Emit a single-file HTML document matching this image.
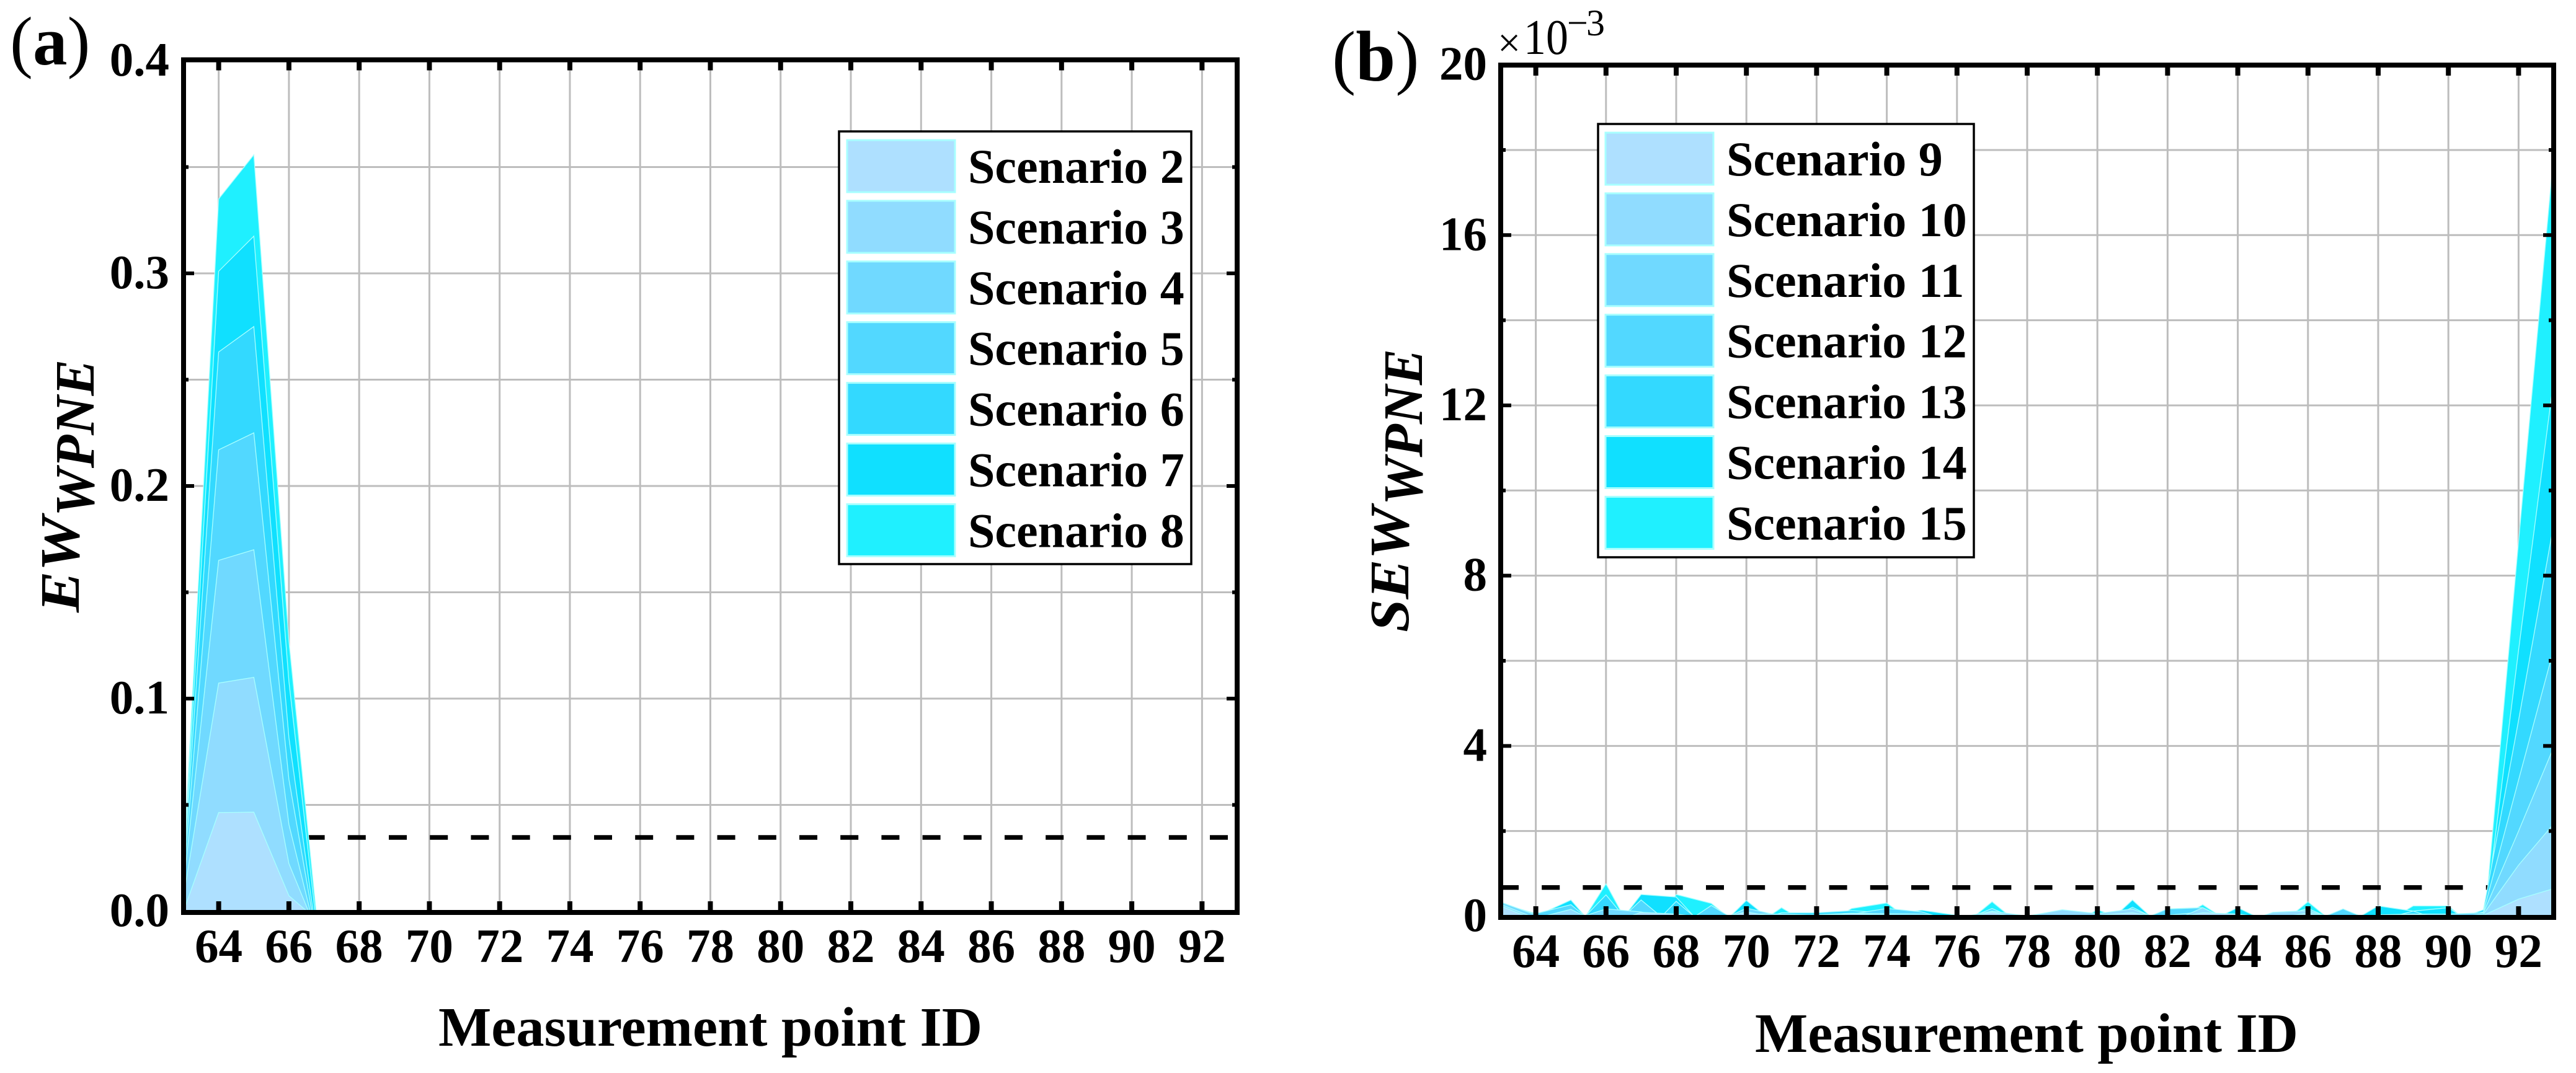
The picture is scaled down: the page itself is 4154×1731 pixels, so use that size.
<!DOCTYPE html>
<html lang="en">
<head>
<meta charset="utf-8">
<title>EW and SEW WPNE by measurement point</title>
<style>
html,body{margin:0;padding:0;background:#fff;}
svg{display:block;}
text{font-family:"Liberation Serif",serif;fill:#000;}
</style>
</head>
<body>
<svg id="figure" xmlns="http://www.w3.org/2000/svg" width="4154" height="1731" viewBox="0 0 4154 1731"></svg>
<script>
const measurementPoints = [63,64,65,66,67,68,69,70,71,72,73,74,75,76,77,78,79,80,81,82,83,84,85,86,87,88,89,90,91,92,93];
const xTickValues = [64,66,68,70,72,74,76,78,80,82,84,86,88,90,92];
const xTickLabels = ["64","66","68","70","72","74","76","78","80","82","84","86","88","90","92"];

const yMajorA = [0,0.1,0.2,0.3,0.4];
const yMinorA = [0.05,0.15,0.25,0.35];
const yLabelsA = ["0.0","0.1","0.2","0.3","0.4"];
const yMajorB = [0,4,8,12,16,20];
const yMinorB = [2,6,10,14,18];
const yLabelsB = ["0","4","8","12","16","20"];

const thresholdA = 0.0347;
const thresholdB = 0.674;

const namesA = ["Scenario 2","Scenario 3","Scenario 4","Scenario 5","Scenario 6","Scenario 7","Scenario 8"];
const namesB = ["Scenario 9","Scenario 10","Scenario 11","Scenario 12","Scenario 13","Scenario 14","Scenario 15"];
const scenarioColors = ["#aee0ff","#90dcff","#70d9ff","#52d8ff","#33d9ff","#10e0ff","#1ff0ff"];

const scenario2 = [0,0.0464,0.0466,0.0073,-0.0069,0,0,0,0,0,0,0,0,0,0,0,0,0,0,0,0,0,0,0,0,0,0,0,0,0,0];
const scenario3 = [0.007,0.1073,0.11,0.0224,-0.0178,0,0,0,0,0,0,0,0,0,0,0,0,0,0,0,0,0,0,0,0,0,0,0,0,0,0];
const scenario4 = [0.012,0.165,0.17,0.0408,-0.0266,0,0,0,0,0,0,0,0,0,0,0,0,0,0,0,0,0,0,0,0,0,0,0,0,0,0];
const scenario5 = [0.015,0.217,0.225,0.062,-0.0327,0,0,0,0,0,0,0,0,0,0,0,0,0,0,0,0,0,0,0,0,0,0,0,0,0,0];
const scenario6 = [0.018,0.263,0.275,0.0816,-0.0368,0,0,0,0,0,0,0,0,0,0,0,0,0,0,0,0,0,0,0,0,0,0,0,0,0,0];
const scenario7 = [0.02,0.301,0.3175,0.108,-0.0377,0,0,0,0,0,0,0,0,0,0,0,0,0,0,0,0,0,0,0,0,0,0,0,0,0,0];
const scenario8 = [0.022,0.335,0.3557,0.127,-0.037,0,0,0,0,0,0,0,0,0,0,0,0,0,0,0,0,0,0,0,0,0,0,0,0,0,0];

const scenario9  = [0.24,-0.1,-0.05,-0.2,0.09,0.05,-0.1,0.1,-0.05,-0.02,0.06,0.02,-0.02,-0.1,0.1,-0.1,0.02,0.02,0.08,-0.08,0.08,0.05,-0.05,0.07,-0.07,0,0.05,-0.02,0.02,0.4,0.65];
const scenario10 = [0.28,-0.05,0.16,-0.25,-0.1,0.05,-0.05,0.05,0.05,0.02,0.04,0.03,0.02,-0.05,0.12,0,0.15,0.06,0.17,-0.17,0.2,-0.2,0.09,0.13,-0.13,0.01,0.03,-0.05,0.05,1.2,2.17];
const scenario11 = [0.33,0.03,-0.1,0.17,0.1,-0.1,-0.2,0.19,0,0.03,0.07,0.06,0.05,-0.05,0.1,-0.05,-0.02,0.05,-0.05,0.02,0.1,0,-0.05,0.18,-0.18,0.03,0.05,0.05,0.08,2.0,3.97];
const scenario12 = [0.3,0.06,0.27,-0.4,0.38,-0.3,0.25,-0.25,-0.1,-0.05,0.05,0.18,0.1,-0.15,0.18,-0.18,-0.1,-0.1,-0.17,0.17,0.2,-0.2,-0.1,-0.17,0.17,-0.17,-0.1,-0.1,0.1,3.2,6.27];
const scenario13 = [0.3,0.03,-0.35,0.5,-0.5,0.35,-0.35,-0.2,0.08,0.08,0.13,0.08,-0.1,-0.1,-0.1,-0.1,-0.1,-0.2,0.21,-0.2,-0.1,-0.1,-0.1,-0.1,-0.1,-0.1,0.12,-0.15,0.15,4.6,9.2];
const scenario14 = [0.3,0,0.38,-0.57,0.51,0.45,-0.45,0.37,-0.3,-0.2,0.05,0.03,0.14,0.02,-0.2,-0.2,-0.2,-0.38,0.38,-0.38,-0.2,0.2,-0.2,-0.2,-0.24,0.24,0.12,0.2,-0.35,6.25,12.6];
const scenario15 = [0.3,-0.1,-0.55,0.76,-0.76,0.51,0.30,-0.37,0.2,-0.3,0.18,0.31,-0.3,-0.34,0.34,-0.34,-0.3,0.15,-0.15,-0.2,0.27,-0.27,-0.34,0.34,-0.34,-0.24,0.24,0.24,-0.44,8.8,17.9];

const seriesA = [scenario2,scenario3,scenario4,scenario5,scenario6,scenario7,scenario8];
const seriesB = [scenario9,scenario10,scenario11,scenario12,scenario13,scenario14,scenario15];

const NS = "http://www.w3.org/2000/svg";
const root = document.getElementById("figure");

function make(parent, tag, attrs, content) {
  const node = document.createElementNS(NS, tag);
  for (const k in attrs) node.setAttribute(k, attrs[k]);
  if (content !== undefined) node.textContent = content;
  parent.appendChild(node);
  return node;
}

function drawPanel(id, layout, majors, minors, yLabels, threshold, series, names) {
  const g = make(root, "g", {});
  
  

  const xScale = v => layout.x0 + (v - 63) * (layout.x1 - layout.x0) / 30;
  const yScale = v => layout.yZero - (v - layout.yMin) * (layout.yZero - layout.yTop) / (layout.yMax - layout.yMin);

  // grid
  const grid = make(g, "g", {stroke:"#bdbdbd","stroke-width":3,fill:"none"});
  
  
  xTickValues.forEach(v => {
    const line = make(grid, "line", {x1:xScale(v),x2:xScale(v),y1:layout.boxTop,y2:layout.boxBottom});
    
    
  });
  majors.concat(minors).forEach(v => {
    const line = make(grid, "line", {x1:layout.x0,x2:layout.x1,y1:yScale(v),y2:yScale(v)});
    
    
  });

  // threshold
  const thr = make(g, "line", {x1:layout.x0,x2:layout.x1,y1:yScale(threshold),y2:yScale(threshold),stroke:"#000","stroke-width":7.5,"stroke-dasharray":"29 37.2"});
  
  

  // clip + areas
  const defs = make(g, "defs", {});
  const clip = make(defs, "clipPath", {id:"clip-" + id});
  make(clip, "rect", {x:layout.x0,y:layout.boxTop,width:layout.x1 - layout.x0,height:layout.yZero - layout.boxTop});
  const areas = make(g, "g", {"clip-path":"url(#clip-" + id + ")"});
  
  
  for (let s = series.length - 1; s >= 0; s--) {
    const pts = series[s].map((v, i) => xScale(measurementPoints[i]).toFixed(1) + "," + yScale(v).toFixed(1));
    const base = yScale(0).toFixed(1);
    const d = xScale(measurementPoints[0]).toFixed(1) + "," + base + " " + pts.join(" ") + " " + xScale(measurementPoints[measurementPoints.length - 1]).toFixed(1) + "," + base;
    const poly = make(areas, "polygon", {points:d,fill:scenarioColors[s],stroke:"#a8ffff","stroke-width":1.3,"stroke-linejoin":"miter"});
    
    
  }

  // legend
  const lg = make(g, "g", {});
  
  
  make(lg, "rect", {x:layout.legendX,y:layout.legendY,width:layout.legendW,height:layout.legendH,fill:"#fff",stroke:"#000","stroke-width":3.5});
  names.forEach((name, i) => {
    const entry = make(lg, "g", {});
    
    
    make(entry, "rect", {x:layout.swatchX,y:layout.swatchY + i * 97.9,width:layout.swatchW,height:84,fill:scenarioColors[i],stroke:"#a8ffff","stroke-width":3});
    make(entry, "text", {x:layout.legendTextX,y:layout.legendTextY + i * 97.9,"font-size":78,"font-weight":"bold"}, name);
  });

  // frame
  const frame = make(g, "rect", {x:layout.x0,y:layout.boxTop,width:layout.x1 - layout.x0,height:layout.boxBottom - layout.boxTop,fill:"none",stroke:"#000","stroke-width":8});
  
  

  // x ticks and labels
  const xAxis = make(g, "g", {});
  
  
  xTickValues.forEach((v, i) => {
    make(xAxis, "line", {x1:xScale(v),x2:xScale(v),y1:layout.boxTop,y2:layout.boxTop + 17,stroke:"#000","stroke-width":8});
    make(xAxis, "line", {x1:xScale(v),x2:xScale(v),y1:layout.boxBottom,y2:layout.boxBottom - 18,stroke:"#000","stroke-width":8});
    const label = make(xAxis, "text", {x:xScale(v),y:layout.xLabelY,"font-size":77,"font-weight":"bold","text-anchor":"middle"}, xTickLabels[i]);
    
    
  });

  // y ticks and labels
  const yAxis = make(g, "g", {});
  
  
  majors.forEach((v, i) => {
    if (i > 0 && i < majors.length - 1) {
      make(yAxis, "line", {x1:layout.x0,x2:layout.x0 + 17,y1:yScale(v),y2:yScale(v),stroke:"#000","stroke-width":6});
      make(yAxis, "line", {x1:layout.x1,x2:layout.x1 - 17,y1:yScale(v),y2:yScale(v),stroke:"#000","stroke-width":6});
    }
    const label = make(yAxis, "text", {x:layout.yLabelX,y:yScale(v) + 24,"font-size":77,"font-weight":"bold","text-anchor":"end"}, yLabels[i]);
    
    
  });
  minors.forEach(v => {
    make(yAxis, "line", {x1:layout.x0,x2:layout.x0 + 8,y1:yScale(v),y2:yScale(v),stroke:"#000","stroke-width":6});
    make(yAxis, "line", {x1:layout.x1,x2:layout.x1 - 8,y1:yScale(v),y2:yScale(v),stroke:"#000","stroke-width":6});
  });

  // x title
  const xt = make(g, "text", {x:layout.xTitleX,y:layout.xTitleY,"font-size":90,"font-weight":"bold",textLength:layout.xTitleW,lengthAdjust:"spacingAndGlyphs"}, "Measurement point ID");
  
  
}

drawPanel("a", {
  x0:296, x1:1995, boxTop:96.5, boxBottom:1472, yZero:1470, yTop:98, yMin:0, yMax:0.4,
  legendX:1353, legendY:212, legendW:568, legendH:698,
  swatchX:1366, swatchY:226, swatchW:174, legendTextX:1561, legendTextY:295,
  xLabelY:1552, yLabelX:273, xTitleX:707, xTitleY:1687, xTitleW:877
}, yMajorA, yMinorA, yLabelsA, thresholdA, seriesA, namesA);

drawPanel("b", {
  x0:2420, x1:4118, boxTop:105, boxBottom:1480, yZero:1478, yTop:104.6, yMin:0, yMax:20,
  legendX:2577, legendY:200, legendW:606, legendH:699,
  swatchX:2589, swatchY:214, swatchW:174, legendTextX:2784, legendTextY:283,
  xLabelY:1560, yLabelX:2398, xTitleX:2830, xTitleY:1697, xTitleW:876
}, yMajorB, yMinorB, yLabelsB, thresholdB, seriesB, namesB);

function panelTag(name, x, y, size, letter) {
  const t = make(root, "text", {x:x,y:y,"font-size":size});
  
  
  make(t, "tspan", {}, "(");
  make(t, "tspan", {"font-weight":"bold"}, letter);
  make(t, "tspan", {}, ")");
}
panelTag("panel-label-a", 16, 104, 111, "a");
panelTag("panel-label-b", 2148, 130, 115, "b");

const multiplier = make(root, "g", {});


make(multiplier, "text", {x:2415,y:91,"font-size":66}, "\u00d7");
make(multiplier, "text", {x:2457,y:87,"font-size":81,textLength:72,lengthAdjust:"spacingAndGlyphs"}, "10");
make(multiplier, "text", {x:2527,y:57,"font-size":60}, "\u2212");
make(multiplier, "text", {x:2558,y:57,"font-size":60}, "3");

function yTitle(name, first, firstX, firstY, firstLen, sub, subX, subY, subLen) {
  const g = make(root, "g", {});
  
  
  make(g, "text", {transform:"translate(" + firstX + "," + firstY + ") rotate(-90)","font-size":90,"font-weight":"bold","font-style":"italic",textLength:firstLen,lengthAdjust:"spacingAndGlyphs"}, first);
  make(g, "text", {transform:"translate(" + subX + "," + subY + ") rotate(-90)","font-size":90,"font-weight":"bold","font-style":"italic",textLength:subLen,lengthAdjust:"spacingAndGlyphs"}, sub);
}
yTitle("y-axis-title-a", "EW", 127, 988, 155, "WPNE", 151, 833, 253);
yTitle("y-axis-title-b", "SEW", 2271, 1020, 203, "WPNE", 2293, 815, 252);
</script>
</body>
</html>
